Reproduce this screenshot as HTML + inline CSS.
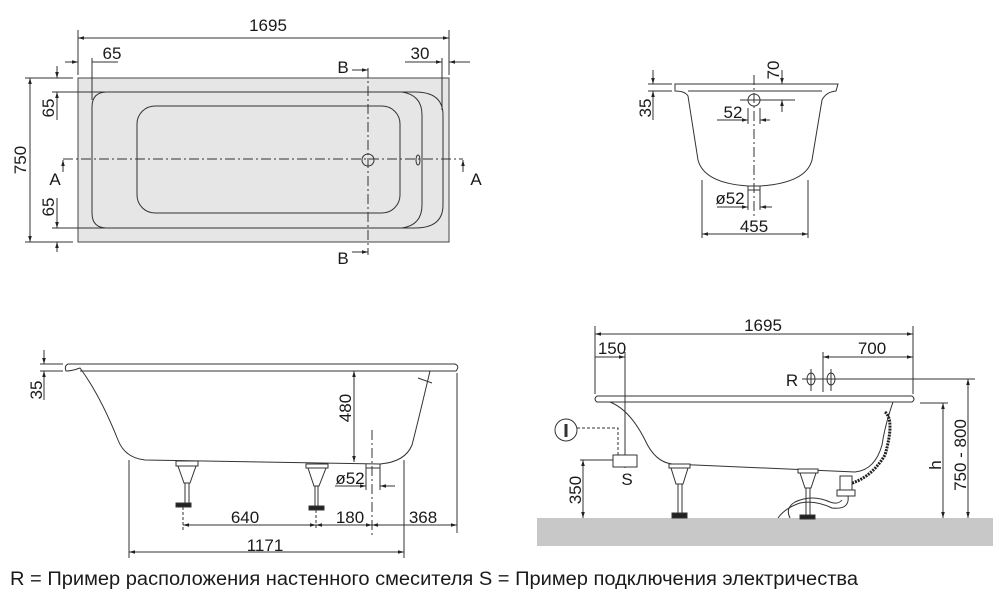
<!DOCTYPE html>
<html><head><meta charset="utf-8"><style>
html,body{margin:0;padding:0;background:#fff;}
svg{display:block;}
text{font-family:"Liberation Sans",sans-serif;fill:#1a1a1a;}
</style></head><body>
<svg width="999" height="598" viewBox="0 0 999 598" xmlns="http://www.w3.org/2000/svg">
<defs>
<marker id="a" viewBox="0 0 10 10" refX="10" refY="5" markerWidth="8" markerHeight="6" orient="auto-start-reverse"><path d="M0,2 L10,5 L0,8z" fill="#222"/></marker>
</defs>
<g stroke="#333" stroke-width="1" fill="none">
<!-- TOP VIEW -->
<rect x="78" y="78" width="371" height="164" fill="#e6e6e6" stroke="#444"/>
<path d="M107,92 H415 Q443,92 443,115 V205 Q443,228 415,228 H107 Q92,228 92,213 V107 Q92,92 107,92Z"/>
<path d="M402,92 Q422,95 422,115 V205 Q422,225 402,228"/>
<rect x="137" y="106" width="263" height="107" rx="18"/>
<line x1="63" y1="159" x2="463" y2="159" stroke-dasharray="10,3,2,3"/>
<line x1="368" y1="68" x2="368" y2="255" stroke-dasharray="10,3,2,3"/>
<circle cx="368" cy="160" r="6"/>
<ellipse cx="418" cy="160" rx="2" ry="5"/>
<line x1="78" y1="30" x2="78" y2="75"/><line x1="449" y1="30" x2="449" y2="75"/>
<line x1="78" y1="38" x2="449" y2="38" marker-start="url(#a)" marker-end="url(#a)"/>
<line x1="92" y1="58" x2="92" y2="100"/>
<line x1="65" y1="62" x2="78" y2="62" marker-end="url(#a)"/><line x1="92" y1="62" x2="118" y2="62"/>
<line x1="442" y1="58" x2="442" y2="110"/>
<line x1="405" y1="62" x2="442" y2="62" marker-end="url(#a)"/><line x1="449" y1="62" x2="470" y2="62" marker-start="url(#a)"/>
<line x1="25" y1="78" x2="73" y2="78"/><line x1="25" y1="242" x2="73" y2="242"/>
<line x1="30" y1="78" x2="30" y2="242" marker-start="url(#a)" marker-end="url(#a)"/>
<line x1="52" y1="92" x2="105" y2="92"/><line x1="52" y1="228" x2="105" y2="228"/>
<line x1="57" y1="66" x2="57" y2="78" marker-end="url(#a)"/><line x1="57" y1="92" x2="57" y2="120" marker-start="url(#a)"/>
<line x1="57" y1="198" x2="57" y2="228" marker-end="url(#a)"/><line x1="57" y1="242" x2="57" y2="252" marker-start="url(#a)"/>
<line x1="352" y1="70" x2="368" y2="70" marker-end="url(#a)"/><line x1="352" y1="252" x2="368" y2="252" marker-end="url(#a)"/>
<line x1="63" y1="172" x2="63" y2="160" marker-end="url(#a)"/><line x1="463" y1="172" x2="463" y2="160" marker-end="url(#a)"/>
<!-- SECTION B -->
<path d="M675,84 H838 L836,91 Q826,92 822,100 L812,160 Q806,183 760,186 H748 Q704,183 698,160 L688,96 Q685,91 675,91Z" fill="#fff"/>
<line x1="688" y1="91" x2="822" y2="91"/>
<line x1="754" y1="75" x2="754" y2="218" stroke-dasharray="10,3,2,3"/>
<circle cx="754" cy="100" r="6"/>
<line x1="740" y1="100" x2="795" y2="100"/>
<line x1="748" y1="186" x2="748" y2="190"/><line x1="760" y1="186" x2="760" y2="190"/><line x1="748" y1="190" x2="760" y2="190"/>
<line x1="702" y1="180" x2="702" y2="238"/><line x1="808" y1="180" x2="808" y2="238"/>
<line x1="702" y1="234" x2="808" y2="234" marker-start="url(#a)" marker-end="url(#a)"/>
<line x1="717" y1="207" x2="748" y2="207" marker-end="url(#a)"/><line x1="760" y1="207" x2="772" y2="207" marker-start="url(#a)"/>
<line x1="748" y1="190" x2="748" y2="210"/><line x1="760" y1="190" x2="760" y2="210"/>
<line x1="717" y1="120" x2="748" y2="120" marker-end="url(#a)"/><line x1="760" y1="120" x2="770" y2="120" marker-start="url(#a)"/>
<line x1="748" y1="108" x2="748" y2="124"/><line x1="760" y1="108" x2="760" y2="124"/>
<line x1="782" y1="70" x2="782" y2="84" marker-end="url(#a)"/><line x1="782" y1="100" x2="782" y2="112" marker-start="url(#a)"/>
<line x1="648" y1="84" x2="672" y2="84"/><line x1="648" y1="91" x2="672" y2="91"/>
<line x1="653" y1="70" x2="653" y2="84" marker-end="url(#a)"/><line x1="653" y1="91" x2="653" y2="120" marker-start="url(#a)"/>
<!-- SIDE VIEW LEFT -->
<path d="M68,364 H455 Q460,366 456,371 H430 Q416,430 412,445 Q405,462 380,464 L145,460 Q125,458 118,440 Q100,395 80,368 Q72,371 66,371 Q64,366 68,364Z" fill="#fff"/>
<line x1="80" y1="371" x2="430" y2="371"/>
<line x1="418" y1="378" x2="432" y2="383"/>
<path d="M366,464 V468 H380 V464" />
<g fill="#fff"><path d="M176,461 H198 V466 H176Z"/><path d="M178,466 H196 L190,483 H184Z"/><path d="M306,464 H328 V468 H306Z"/><path d="M308,468 H326 L319,486 H314Z"/></g>
<line x1="185" y1="483" x2="185" y2="503"/><line x1="189" y1="483" x2="189" y2="503"/>
<line x1="315" y1="486" x2="315" y2="506"/><line x1="318" y1="486" x2="318" y2="506"/>
<rect x="176" y="503" width="15" height="4" fill="#222"/><rect x="309" y="506" width="15" height="4" fill="#222"/>
<line x1="183" y1="507" x2="183" y2="530" stroke-dasharray="3,2"/><line x1="316" y1="510" x2="316" y2="530" stroke-dasharray="3,2"/>
<line x1="372" y1="430" x2="372" y2="535" stroke-dasharray="10,3,2,3"/>
<line x1="183" y1="525" x2="316" y2="525" marker-start="url(#a)" marker-end="url(#a)"/>
<line x1="316" y1="525" x2="372" y2="525" marker-start="url(#a)" marker-end="url(#a)"/>
<line x1="372" y1="525" x2="457" y2="525" marker-start="url(#a)" marker-end="url(#a)"/>
<line x1="457" y1="373" x2="457" y2="533"/>
<line x1="129" y1="460" x2="129" y2="558"/><line x1="404" y1="460" x2="404" y2="558"/>
<line x1="129" y1="552" x2="404" y2="552" marker-start="url(#a)" marker-end="url(#a)"/>
<line x1="354" y1="371" x2="354" y2="462" marker-start="url(#a)" marker-end="url(#a)"/>
<line x1="335" y1="486" x2="366" y2="486" marker-end="url(#a)"/><line x1="380" y1="486" x2="395" y2="486" marker-start="url(#a)"/>
<line x1="366" y1="468" x2="366" y2="490"/><line x1="380" y1="468" x2="380" y2="490"/>
<line x1="40" y1="364" x2="63" y2="364"/><line x1="40" y1="371" x2="63" y2="371"/>
<line x1="44" y1="350" x2="44" y2="364" marker-end="url(#a)"/><line x1="44" y1="371" x2="44" y2="400" marker-start="url(#a)"/>
<!-- SIDE VIEW RIGHT -->
<rect x="537" y="518" width="456" height="28" fill="#c8c8c8" stroke="none"/>
<path d="M597,396 H912 Q916,399 912,402 H893 Q885,425 882,445 Q875,470 855,472 L672,464 Q655,462 645,440 Q630,410 610,402 H597 Q593,399 597,396Z" fill="#fff"/>
<line x1="610" y1="402" x2="893" y2="402"/>
<path d="M885,412 Q895,420 885,455 Q870,480 845,485" stroke="#222" stroke-width="3" stroke-dasharray="2,1"/>
<g fill="#fff"><path d="M669,464 H690 V468 H669Z"/><path d="M671,468 H688 L683,484 H676Z"/><path d="M798,469 H818 V473 H798Z"/><path d="M800,473 H816 L811,488 H805Z"/>
<path d="M840,476 H852 V490 H840Z"/><path d="M837,490 H855 V496 H837Z"/></g>
<line x1="678" y1="484" x2="678" y2="513"/><line x1="682" y1="484" x2="682" y2="513"/>
<line x1="806" y1="488" x2="806" y2="515"/><line x1="810" y1="488" x2="810" y2="515"/>
<rect x="672" y="513" width="15" height="5" fill="#222"/><rect x="800" y="515" width="15" height="4" fill="#222"/>
<path d="M848,496 Q850,510 832,508 Q815,500 800,503 Q785,508 778,518"/>
<path d="M842,500 Q838,505 830,502 Q812,494 795,502 Q785,508 790,518"/>
<line x1="595" y1="326" x2="595" y2="394"/><line x1="913" y1="326" x2="913" y2="394"/>
<line x1="595" y1="334" x2="913" y2="334" marker-start="url(#a)" marker-end="url(#a)"/>
<line x1="625" y1="352" x2="625" y2="468"/>
<line x1="595" y1="357" x2="625" y2="357" marker-end="url(#a)"/>
<line x1="823" y1="352" x2="823" y2="392"/>
<line x1="823" y1="357" x2="913" y2="357" marker-start="url(#a)" marker-end="url(#a)"/>
<line x1="802" y1="379" x2="975" y2="379"/>
<ellipse cx="811" cy="379" rx="4" ry="6"/><ellipse cx="831" cy="379" rx="4" ry="6"/>
<line x1="811" y1="369" x2="811" y2="391"/><line x1="831" y1="369" x2="831" y2="391"/>
<line x1="920" y1="403" x2="948" y2="403"/>
<line x1="943" y1="403" x2="943" y2="518" marker-start="url(#a)" marker-end="url(#a)"/>
<line x1="968" y1="379" x2="968" y2="518" marker-start="url(#a)" marker-end="url(#a)"/>
<circle cx="566" cy="430" r="11"/>
<line x1="566" y1="424" x2="566" y2="437" stroke-width="3"/>
<path d="M577,428 H618 V455" stroke-dasharray="3,2"/>
<rect x="613" y="455" width="24" height="12" fill="#fff"/>
<line x1="580" y1="460" x2="613" y2="460"/>
<line x1="583" y1="460" x2="583" y2="518" marker-start="url(#a)" marker-end="url(#a)"/>
</g>
<g font-size="17">
<text x="268" y="31" text-anchor="middle">1695</text>
<text x="112" y="59" text-anchor="middle">65</text>
<text x="420" y="59" text-anchor="middle">30</text>
<text x="343" y="73" text-anchor="middle">B</text>
<text x="343" y="264" text-anchor="middle">B</text>
<text x="55" y="185" text-anchor="middle">A</text>
<text x="476" y="185" text-anchor="middle">A</text>
<text transform="translate(26,160) rotate(-90)" text-anchor="middle">750</text>
<text transform="translate(54,108) rotate(-90)" text-anchor="middle">65</text>
<text transform="translate(54,207) rotate(-90)" text-anchor="middle">65</text>
<text transform="translate(651,108) rotate(-90)" text-anchor="middle">35</text>
<text transform="translate(779,70) rotate(-90)" text-anchor="middle">70</text>
<text x="733" y="118" text-anchor="middle">52</text>
<text x="730" y="204" text-anchor="middle">ø52</text>
<text x="754" y="232" text-anchor="middle">455</text>
<text transform="translate(42,390) rotate(-90)" text-anchor="middle">35</text>
<text transform="translate(351,408) rotate(-90)" text-anchor="middle">480</text>
<text x="350" y="484" text-anchor="middle">ø52</text>
<text x="245" y="523" text-anchor="middle">640</text>
<text x="350" y="523" text-anchor="middle">180</text>
<text x="423" y="523" text-anchor="middle">368</text>
<text x="265" y="551" text-anchor="middle">1171</text>
<text x="763" y="331" text-anchor="middle">1695</text>
<text x="612" y="354" text-anchor="middle">150</text>
<text x="872" y="354" text-anchor="middle">700</text>
<text x="792" y="386" text-anchor="middle">R</text>
<text x="627" y="485" text-anchor="middle">S</text>
<text transform="translate(581,490) rotate(-90)" text-anchor="middle">350</text>
<text transform="translate(941,465) rotate(-90)" text-anchor="middle">h</text>
<text transform="translate(966,455) rotate(-90)" text-anchor="middle">750 - 800</text>
</g>
<text x="10" y="585" font-size="19" textLength="848" lengthAdjust="spacingAndGlyphs">R = Пример расположения настенного смесителя S = Пример подключения электричества</text>
</svg>
</body></html>
